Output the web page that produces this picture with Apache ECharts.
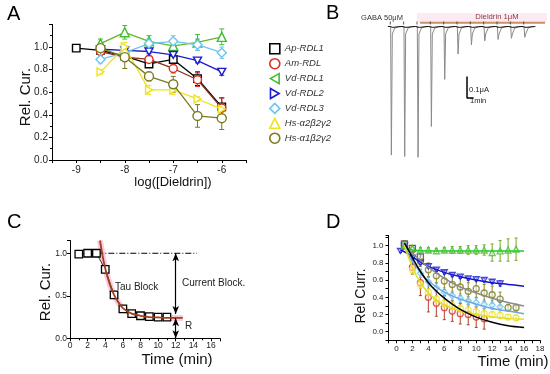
<!DOCTYPE html>
<html><head><meta charset="utf-8">
<script src="https://cdn.jsdelivr.net/npm/echarts@6/dist/echarts.min.js"></script>
<style>html,body{margin:0;padding:0;background:#fff}#c{width:550px;height:374px}</style>
</head><body><div id="c"></div>
<script>
// ================= DATA =================
// ---- Panel A : concentration-response ----
const concA  = [-9, -8.5, -8, -7.5, -7, -6.5, -6];
const concA6 = [-8.5, -8, -7.5, -7, -6.5, -6];
const namesA = ['Ap-RDL1', 'Am-RDL', 'Vd-RDL1', 'Vd-RDL2', 'Vd-RDL3', 'Hs-α2β2γ2', 'Hs-α1β2γ2'];
const apA     = [0.99, 0.97, 0.92, 0.85, 0.89, 0.72, 0.47];
const apAerr  = [0.01, 0.02, 0.03, 0.02, 0.03, 0.06, 0.08];
const amA     = [0.96, 0.91, 0.89, 0.81, 0.71, 0.46];
const amAerr  = [0.03, 0.04, 0.03, 0.04, 0.06, 0.09];
const vd1A    = [1.03, 1.13, 1.05, 1.01, 1.04, 1.09];
const vd1Aerr = [0.04, 0.06, 0.05, 0.05, 0.07, 0.07];
const vd2A    = [0.98, 0.97, 0.96, 0.93, 0.88, 0.78];
const vd2Aerr = [0.02, 0.02, 0.02, 0.02, 0.02, 0.03];
const vd3A    = [0.89, 0.95, 1.03, 1.05, 1.02, 0.95];
const vd3Aerr = [0.03, 0.04, 0.04, 0.05, 0.05, 0.05];
const hs2A    = [0.78, 1.00, 0.62, 0.62, 0.54, 0.45];
const hs2Aerr = [0.02, 0.04, 0.04, 0.04, 0.02, 0.03];
const hs1A    = [0.99, 0.91, 0.74, 0.67, 0.39, 0.37];
const hs1Aerr = [0.04, 0.10, 0.04, 0.07, 0.10, 0.10];

// ---- Panel B : current traces ----
const pulseTimeB = [0, 2, 4, 6, 8, 10, 12, 14, 16, 18, 20];            // min
const pulseAmpB  = [0.598, 0.605, 0.608, 0.465, 0.246, 0.128, 0.086, 0.067, 0.060, 0.055, 0.050]; // µA
const dieldrinStartB = 4.35, dieldrinEndB = 23.1;
const scaleBarTimeB = 1;   // min
const scaleBarAmpB  = 0.1; // µA
const scaleBarOriginB = [11.4, -0.333];

// ---- Panel C : kinetics example ----
const timeC   = [1, 2, 3, 4, 5, 6, 7, 8, 9, 10, 11];
const relC    = [0.99, 1.0, 1.0, 0.81, 0.51, 0.345, 0.29, 0.265, 0.255, 0.25, 0.25];
const fitTimeC = [3.4, 3.7, 4, 4.5, 5, 5.5, 6, 7, 8, 9, 10, 11, 12, 12.8];
const fitRelC  = [1.15, 0.97, 0.82, 0.64, 0.51, 0.42, 0.355, 0.29, 0.265, 0.25, 0.245, 0.24, 0.24, 0.24];
const refLineTimeC = [3.1, 14.4];
const refLevelC = 1.0;
const arrowTimeC = 12, blockBottomC = 0.285, residualTopC = 0.235;

// ---- Panel D : kinetics for all receptors ----
const tApD  = [1, 2, 3];
const apD   = [1.02, 0.97, 0.87];
const apDerr = [0.02, 0.03, 0.03];
const tAmD  = [1, 2, 3, 4, 5, 6, 7, 8, 9, 10, 11];
const amD   = [1.0, 0.75, 0.57, 0.40, 0.33, 0.28, 0.24, 0.21, 0.20, 0.17, 0.15];
const amDerr = [0.02, 0.08, 0.15, 0.17, 0.15, 0.14, 0.12, 0.12, 0.12, 0.12, 0.12];
const tVd1D = [1, 2, 3, 4, 5, 6, 7, 8, 9, 10, 11, 12, 13, 14, 15];
const vd1D  = [1.0, 0.97, 0.95, 0.95, 0.94, 0.95, 0.95, 0.95, 0.95, 0.95, 0.95, 0.92, 0.94, 0.95, 0.96];
const vd1Derr = [0.02, 0.03, 0.03, 0.03, 0.03, 0.03, 0.04, 0.04, 0.05, 0.05, 0.06, 0.10, 0.12, 0.13, 0.13];
const tVd2D = [0.5, 1, 2, 3, 4, 5, 6, 7, 8, 9, 10, 11, 12, 13];
const vd2D  = [0.94, 1.0, 0.86, 0.80, 0.76, 0.72, 0.69, 0.66, 0.64, 0.62, 0.61, 0.60, 0.58, 0.56];
const vd2Derr = [0.02, 0.02, 0.02, 0.02, 0.02, 0.02, 0.02, 0.02, 0.02, 0.02, 0.02, 0.02, 0.02, 0.03];
const tVd3D = [1, 2, 3, 4, 5, 6, 7, 8, 9, 10, 11, 12, 13];
const vd3D  = [1.0, 0.85, 0.68, 0.58, 0.51, 0.46, 0.42, 0.39, 0.36, 0.34, 0.32, 0.31, 0.29];
const vd3Derr = [0.02, 0.04, 0.05, 0.05, 0.05, 0.05, 0.05, 0.05, 0.05, 0.05, 0.05, 0.05, 0.05];
const tHs2D = [1, 2, 3, 4, 5, 6, 7, 8, 9, 10, 11, 12, 13, 14, 15];
const hs2D  = [1.0, 0.72, 0.55, 0.46, 0.38, 0.33, 0.30, 0.27, 0.25, 0.23, 0.21, 0.20, 0.19, 0.17, 0.16];
const hs2Derr = [0.02, 0.05, 0.05, 0.04, 0.04, 0.04, 0.04, 0.04, 0.04, 0.03, 0.03, 0.03, 0.03, 0.03, 0.03];
const tHs1D = [1, 2, 3, 4, 5, 6, 7, 8, 9, 10, 11, 12, 13, 14, 15];
const hs1D  = [1.02, 0.95, 0.82, 0.72, 0.65, 0.59, 0.55, 0.52, 0.47, 0.50, 0.45, 0.43, 0.38, 0.28, 0.28];
const hs1Derr = [0.02, 0.04, 0.06, 0.08, 0.08, 0.10, 0.10, 0.10, 0.10, 0.10, 0.10, 0.10, 0.08, 0.04, 0.04];
// fitted curves
const fitTApD = [1, 1.5, 2, 3, 4, 5, 6, 7, 8, 10, 12, 14, 16];
const fitApD  = [1.03, 0.95, 0.86, 0.70, 0.57, 0.47, 0.39, 0.32, 0.26, 0.17, 0.11, 0.07, 0.05];
const fitTVd1D = [1.2, 2, 4, 8, 12, 16];
const fitVd1D  = [0.98, 0.95, 0.94, 0.94, 0.94, 0.94];
const fitTVd2D = [0.5, 1, 2, 3, 4, 6, 8, 10, 12, 14, 16];
const fitVd2D  = [0.95, 0.93, 0.87, 0.81, 0.76, 0.69, 0.64, 0.60, 0.57, 0.55, 0.53];
const fitTVd3D = [1, 2, 3, 4, 6, 8, 10, 12, 14, 16];
const fitVd3D  = [1.0, 0.82, 0.69, 0.59, 0.46, 0.38, 0.32, 0.27, 0.24, 0.21];
const fitTHs2D = [1, 2, 3, 4, 5, 6, 8, 10, 12, 14, 16];
const fitHs2D  = [1.0, 0.75, 0.57, 0.45, 0.37, 0.31, 0.24, 0.20, 0.17, 0.155, 0.145];
const fitTHs1D = [1, 2, 3, 4, 6, 8, 10, 12, 14, 16];
const fitHs1D  = [1.0, 0.91, 0.83, 0.75, 0.62, 0.52, 0.45, 0.39, 0.34, 0.30];

// ================= STYLE / BUILD =================
const FF = '"Liberation Sans", Arial, Helvetica, sans-serif';
const zip = (xs, ys) => xs.map((x, i) => [x, ys[i]]);
const SYM = {
  sq: 'rect', ci: 'circle', up: 'triangle', dia: 'diamond',
  down: 'path://M0,0L10,0L5,8.66Z',
  left: 'path://M8.66,0L0,5L8.66,10Z',
  right: 'path://M0,0L8.66,5L0,10Z'
};
const COL = {ap:'#000000', am:'#e03020', amLine:'#8b2b1b', vd1:'#3fbf2f', vd1Line:'#66b62a',
  vd2:'#1a1ad0', vd3:'#6cc6ee', hs2:'#eee322', hs1:'#7a7a1e'};

function errSeries(xs, ys, es, color, ax, cap, z) {
  return {
    type: 'custom', xAxisIndex: ax, yAxisIndex: ax, silent: true, z: z || 2,
    data: xs.map((x, i) => [x, ys[i], es[i]]),
    renderItem: function (p, api) {
      const x = api.value(0), y = api.value(1), e = api.value(2);
      const t = api.coord([x, y + e]), b = api.coord([x, y - e]);
      const st = {stroke: color, lineWidth: 1};
      return {type: 'group', children: [
        {type: 'line', shape: {x1: t[0], y1: t[1], x2: b[0], y2: b[1]}, style: st},
        {type: 'line', shape: {x1: t[0] - cap, y1: t[1], x2: t[0] + cap, y2: t[1]}, style: st},
        {type: 'line', shape: {x1: b[0] - cap, y1: b[1], x2: b[0] + cap, y2: b[1]}, style: st}
      ]};
    }
  };
}

const specA = [
  {x: concA,  y: apA,  e: apAerr,  c: COL.ap,  lc: COL.ap,     sym: SYM.sq,    sz: 7.5, leg: SYM.sq},
  {x: concA6, y: amA,  e: amAerr,  c: COL.am,  lc: COL.amLine, sym: SYM.ci,    sz: 8,   leg: SYM.ci},
  {x: concA6, y: vd1A, e: vd1Aerr, c: COL.vd1, lc: COL.vd1Line,sym: SYM.up,    sz: 9,   leg: SYM.left},
  {x: concA6, y: vd2A, e: vd2Aerr, c: COL.vd2, lc: COL.vd2,    sym: SYM.down,  sz: 8,   leg: SYM.right},
  {x: concA6, y: vd3A, e: vd3Aerr, c: COL.vd3, lc: COL.vd3,    sym: SYM.dia,   sz: 9,   leg: SYM.dia},
  {x: concA6, y: hs2A, e: hs2Aerr, c: COL.hs2, lc: COL.hs2,    sym: SYM.right, sz: 8,   leg: SYM.up},
  {x: concA6, y: hs1A, e: hs1Aerr, c: COL.hs1, lc: COL.hs1,    sym: SYM.ci,    sz: 9,   leg: SYM.ci}
];

const series = [];
specA.forEach((s, i) => {
  series.push(errSeries(s.x, s.y, s.e, s.c, 0, 2.5, 2));
  series.push({
    type: 'line', name: namesA[i], xAxisIndex: 0, yAxisIndex: 0, z: 3 + i * 0.01,
    data: zip(s.x, s.y), symbol: s.sym, symbolSize: s.sz, symbolKeepAspect: true,
    itemStyle: {color: '#fff', borderColor: s.c, borderWidth: 1.4},
    lineStyle: {color: s.lc, width: 1.3}, emphasis: {disabled: true}
  });
});

// ---- Panel B traces ----
const traceB = [[-0.45, 0]];
pulseTimeB.forEach((t, i) => {
  const a = pulseAmpB[i];
  traceB.push([t - 0.05, 0], [t + 0.06, -a], [t + 0.2, -0.035], [t + 0.55, -0.008], [t + 1.1, 0]);
});
traceB.push([21.3, 0]);
series.push({type: 'line', xAxisIndex: 1, yAxisIndex: 1, data: traceB, showSymbol: false, silent: true,
  lineStyle: {color: '#8a8a8a', width: 1}, z: 2});
series.push({type: 'line', xAxisIndex: 1, yAxisIndex: 1, silent: true, showSymbol: false,
  data: pulseTimeB.map(t => [t + 0.25, -0.004]).reduce((acc, p, i) => acc.concat([p, [p[0] + 1.4, 0], [pulseTimeB[i] + 2 - 0.1, 0]]), [[-0.45, 0], [-0.1, 0]]).slice(0, -1),
  lineStyle: {color: '#111', width: 1}, z: 3});
series.push({type: 'scatter', xAxisIndex: 1, yAxisIndex: 1, silent: true,
  data: pulseTimeB.map(t => [t - 0.1, 0.016]), symbol: 'rect', symbolSize: [1, 3],
  itemStyle: {color: '#333'}, z: 3});
series.push({type: 'line', xAxisIndex: 1, yAxisIndex: 1, silent: true, showSymbol: false,
  data: [[dieldrinStartB, 0.018], [dieldrinEndB, 0.018]], lineStyle: {color: '#c8916c', width: 2}, z: 3});
series.push({type: 'line', xAxisIndex: 1, yAxisIndex: 1, silent: true, showSymbol: false,
  data: [[scaleBarOriginB[0], scaleBarOriginB[1] + scaleBarAmpB], scaleBarOriginB,
         [scaleBarOriginB[0] + scaleBarTimeB, scaleBarOriginB[1]]],
  lineStyle: {color: '#000', width: 1.5}, z: 3});

// ---- Panel C ----
series.push({type: 'line', xAxisIndex: 2, yAxisIndex: 2, silent: true, showSymbol: false, smooth: 0.3,
  data: zip(fitTimeC, fitRelC), lineStyle: {color: 'rgba(244,160,200,0.55)', width: 6}, z: 1});
series.push({type: 'line', xAxisIndex: 2, yAxisIndex: 2, silent: true, showSymbol: false,
  data: refLineTimeC.map(t => [t, refLevelC]), lineStyle: {color: '#000', width: 1, type: [6, 2, 1, 2]}, z: 2,
  markLine: {silent: true, symbol: ['arrow', 'arrow'], symbolSize: [5, 8], label: {show: false},
    lineStyle: {color: '#000', width: 1.2, type: 'solid'},
    data: [[{coord: [arrowTimeC, refLevelC]}, {coord: [arrowTimeC, blockBottomC]}],
           [{coord: [arrowTimeC, residualTopC]}, {coord: [arrowTimeC, 0]}]]}});
series.push({type: 'line', xAxisIndex: 2, yAxisIndex: 2, silent: true,
  data: zip(timeC, relC), symbol: 'rect', symbolSize: 7.5,
  itemStyle: {color: '#fff', borderColor: '#000', borderWidth: 1.3}, lineStyle: {color: '#000', width: 0.8}, z: 3});
series.push({type: 'line', xAxisIndex: 2, yAxisIndex: 2, silent: true, showSymbol: false, smooth: 0.3,
  data: zip(fitTimeC, fitRelC), lineStyle: {color: '#a3401c', width: 1.8}, z: 4});

// ---- Panel D ----
const fitsD = [
  [fitTVd1D, fitVd1D, '#22cc22'], [fitTVd2D, fitVd2D, '#1414cc'], [fitTHs1D, fitHs1D, '#8a8a8a'],
  [fitTVd3D, fitVd3D, '#6aa8e0'], [fitTHs2D, fitHs2D, '#e4df1c'], [fitTApD, fitApD, '#000']
];
const ptsD = [
  [tAmD, amD, amDerr, COL.am, SYM.ci, '#b0402a'],
  [tHs2D, hs2D, hs2Derr, COL.hs2, SYM.ci, '#cfc81a'],
  [tVd3D, vd3D, vd3Derr, COL.vd3, SYM.dia, '#6cc6ee'],
  [tHs1D, hs1D, hs1Derr, COL.hs1, SYM.ci, '#8a8a28'],
  [tVd2D, vd2D, vd2Derr, COL.vd2, SYM.down, COL.vd2],
  [tApD, apD, apDerr, '#444', SYM.sq, '#444'],
  [tVd1D, vd1D, vd1Derr, COL.vd1, SYM.up, '#7aa820']
];
ptsD.forEach((p, i) => {
  series.push(errSeries(p[0], p[1], p[2], p[5], 3, 1.5, 5 + i * 0.01));
  series.push({type: 'scatter', xAxisIndex: 3, yAxisIndex: 3, silent: true, z: 5.5 + i * 0.01,
    data: zip(p[0], p[1]), symbol: p[4], symbolSize: 6, symbolKeepAspect: true,
    itemStyle: {color: 'rgba(255,255,255,0.6)', borderColor: p[3], borderWidth: 1.3}});
});
fitsD.forEach((f, i) => {
  series.push({type: 'line', xAxisIndex: 3, yAxisIndex: 3, silent: true, showSymbol: false, smooth: 0.35,
    data: zip(f[0], f[1]), lineStyle: {color: f[2], width: 1.5}, z: 6 + i * 0.01});
});

// ---- axes ----
const axLine = {show: true, onZero: false, lineStyle: {color: '#000', width: 1}};
const tick = {show: true, length: 3, lineStyle: {color: '#000', width: 1}};
const minor = {show: true, splitNumber: 2, length: 2, lineStyle: {color: '#000', width: 1}};
const isInt = v => Math.abs(v - Math.round(v)) < 1e-6;
const lbl = (fs, m, f) => ({fontSize: fs, margin: m, color: '#222', fontFamily: FF, formatter: f});

const option = {
  animation: false,
  backgroundColor: '#fff',
  textStyle: {fontFamily: FF},
  grid: [
    {left: 52, top: 24.4, width: 194, height: 135.6, containLabel: false, outerBoundsMode: 'none'},
    {left: 384.3, top: 5, width: 166.75, height: 154.8, containLabel: false, outerBoundsMode: 'none'},
    {left: 70, top: 240.5, width: 149.8, height: 97.8, containLabel: false, outerBoundsMode: 'none'},
    {left: 388.5, top: 235.4, width: 151.5, height: 104.9, containLabel: false, outerBoundsMode: 'none'}
  ],
  xAxis: [
    {gridIndex: 0, type: 'value', min: -9.5, max: -5.5, interval: 0.5, axisLine: axLine, axisTick: tick,
     splitLine: {show: false}, axisLabel: lbl(10, 5, v => isInt(v) ? String(Math.round(v)) : '')},
    {gridIndex: 1, type: 'value', min: -1, max: 24, show: false},
    {gridIndex: 2, type: 'value', min: 0, max: 17, interval: 2, axisLine: axLine, axisTick: tick, minorTick: minor,
     splitLine: {show: false}, axisLabel: lbl(8.5, 3, v => (isInt(v) && Math.round(v) % 2 === 0) ? String(Math.round(v)) : '')},
    {gridIndex: 3, type: 'value', min: -1, max: 18, interval: 1, axisLine: axLine, axisTick: tick,
     splitLine: {show: false}, axisLabel: lbl(8, 4, v => (v >= 0 && isInt(v) && Math.round(v) % 2 === 0) ? String(Math.round(v)) : '')}
  ],
  yAxis: [
    {gridIndex: 0, type: 'value', min: 0, max: 1.2, interval: 0.2, axisLine: axLine, axisTick: tick, minorTick: minor,
     splitLine: {show: false}, axisLabel: lbl(10, 4, v => v > 1.05 ? '' : v.toFixed(1))},
    {gridIndex: 1, type: 'value', min: -0.62, max: 0.1, show: false},
    {gridIndex: 2, type: 'value', min: 0, max: 1.15, interval: 0.5, axisLine: axLine, axisTick: tick,
     splitLine: {show: false}, axisLabel: lbl(8.5, 3, v => v > 1.05 ? '' : v.toFixed(1))},
    {gridIndex: 3, type: 'value', min: -0.1, max: 1.12, interval: 0.1, axisLine: axLine, axisTick: tick,
     splitLine: {show: false}, axisLabel: lbl(8, 5, v => {
       const k = Math.round(v * 10);
       return (Math.abs(v * 10 - k) < 1e-6 && k >= 0 && k <= 10 && k % 2 === 0) ? (k / 10).toFixed(1) : '';
     })}
  ],
  legend: {
    orient: 'vertical', left: 264, top: 38, itemWidth: 10, itemHeight: 10, itemGap: 3.3,
    selectedMode: false,
    textStyle: {fontSize: 9.5, fontStyle: 'italic', color: '#333', fontFamily: FF, lineHeight: 10},
    data: namesA.map((n, i) => ({name: n, icon: specA[i].leg,
      itemStyle: {color: '#fff', borderColor: specA[i].c, borderWidth: 1.6}}))
  },
  graphic: [
    {type: 'rect', shape: {x: 417, y: 13, width: 130, height: 9}, style: {fill: '#fdebf3'}, silent: true, z: -1},
    {type: 'text', x: 7, y: 14, style: {text: 'A', font: '20px ' + FF, fill: '#000', verticalAlign: 'middle'}},
    {type: 'text', x: 326, y: 13.5, style: {text: 'B', font: '20px ' + FF, fill: '#000', verticalAlign: 'middle'}},
    {type: 'text', x: 7, y: 222, style: {text: 'C', font: '20px ' + FF, fill: '#000', verticalAlign: 'middle'}},
    {type: 'text', x: 326, y: 222, style: {text: 'D', font: '20px ' + FF, fill: '#000', verticalAlign: 'middle'}},
    {type: 'text', x: 26, y: 97, rotation: Math.PI / 2, style: {text: 'Rel. Cur.', font: '15px ' + FF, fill: '#111', align: 'center', verticalAlign: 'middle'}},
    {type: 'text', x: 173, y: 182, style: {text: 'log([Dieldrin])', font: '13px ' + FF, fill: '#111', align: 'center', verticalAlign: 'middle'}},
    {type: 'text', x: 382, y: 18.3, style: {text: 'GABA 50μM', font: '7.5px ' + FF, fill: '#333', align: 'center', verticalAlign: 'middle'}},
    {type: 'text', x: 497, y: 17, style: {text: 'Dieldrin 1μM', font: '7.7px ' + FF, fill: '#8a3a3a', align: 'center', verticalAlign: 'middle'}},
    {type: 'text', x: 469, y: 90, style: {text: '0.1μA', font: '7.6px ' + FF, fill: '#222', verticalAlign: 'middle'}},
    {type: 'text', x: 470, y: 101, style: {text: '1min', font: '7.5px ' + FF, fill: '#222', verticalAlign: 'middle'}},
    {type: 'text', x: 46, y: 292, rotation: Math.PI / 2, style: {text: 'Rel. Cur.', font: '15px ' + FF, fill: '#111', align: 'center', verticalAlign: 'middle'}},
    {type: 'text', x: 177, y: 360, style: {text: 'Time (min)', font: '15px ' + FF, fill: '#111', align: 'center', verticalAlign: 'middle'}},
    {type: 'text', x: 115, y: 287, style: {text: 'Tau Block', font: '10px ' + FF, fill: '#222', verticalAlign: 'middle'}},
    {type: 'text', x: 182, y: 283, style: {text: 'Current Block.', font: '10px ' + FF, fill: '#222', verticalAlign: 'middle'}},
    {type: 'text', x: 185, y: 326, style: {text: 'R', font: '10px ' + FF, fill: '#222', verticalAlign: 'middle'}},
    {type: 'text', x: 361, y: 296, rotation: Math.PI / 2, style: {text: 'Rel Curr.', font: '14px ' + FF, fill: '#111', align: 'center', verticalAlign: 'middle'}},
    {type: 'text', x: 513, y: 362, style: {text: 'Time (min)', font: '15px ' + FF, fill: '#111', align: 'center', verticalAlign: 'middle'}}
  ],
  series: series
};
const chart = echarts.init(document.getElementById('c'));
chart.setOption(option);
</script>
</body></html>
